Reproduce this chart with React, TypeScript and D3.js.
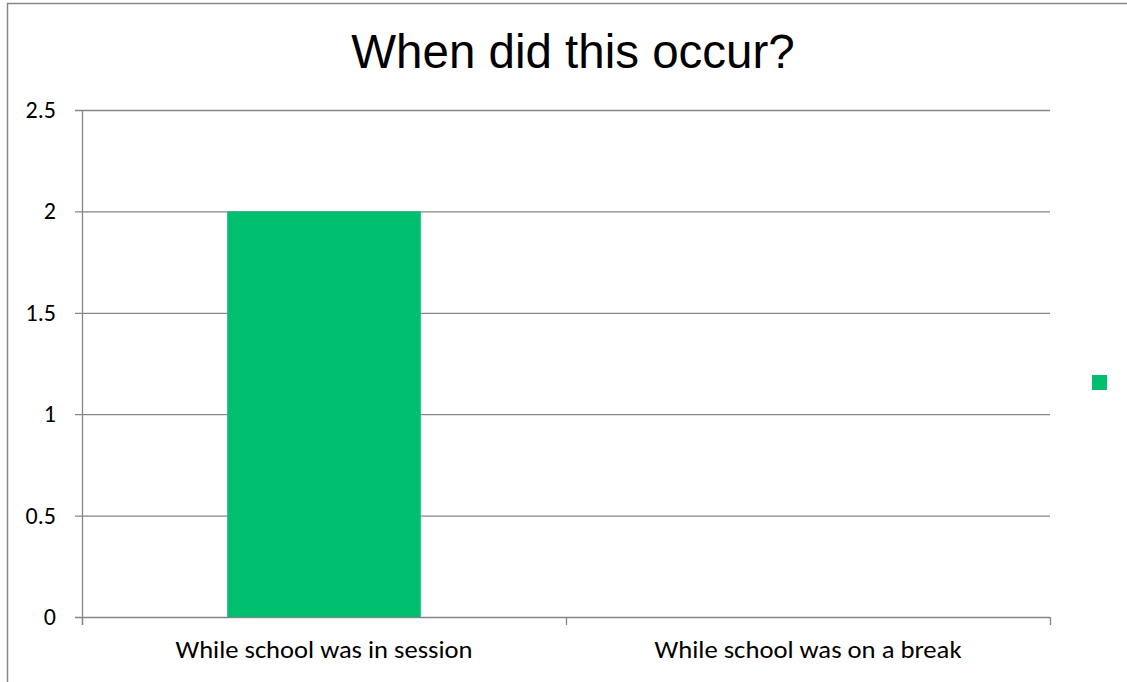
import React from "react";
import * as d3 from "d3";

const categories = ["While school was in session", "While school was on a break"];
const values = [2, 0];
const yTicks = [0, 0.5, 1, 1.5, 2, 2.5];
const title = "When did this occur?";
const barColor = "#00BF6F";

export default function App() {
  const W = 1127, H = 682;
  const x0 = 82, x1 = 1050, yTop = 110, yBot = 617;
  const x = d3.scaleBand<string>().domain(categories).range([x0, x1]).paddingInner(0.6).paddingOuter(0.3);
  const xb = d3.scaleBand<string>().domain(categories).range([x0, x1]);
  const y = d3.scaleLinear().domain([0, 2.5]).range([yBot, yTop]);
  const grid = "#868686";
  const font = "Carlito, Calibri, Lato, 'Open Sans', sans-serif";
  const labelLen = [297, 307];
  return (
    <svg width={W} height={H} style={{ position: "absolute", left: 0, top: 0, background: "#fff" }}>
      <rect x={7.5} y={3.5} width={W + 10} height={H + 10} fill="#fff" stroke="#888" strokeWidth={1.5} />
      <text x={573} y={68} textAnchor="middle" fontFamily="'Liberation Sans', Arial, sans-serif" fontSize={47.5} fill="#000">
        {title}
      </text>
      {yTicks.map((t) => (
        <g key={t}>
          <line x1={x0 - 7} x2={x1} y1={y(t) + 0.5} y2={y(t) + 0.5} stroke={grid} strokeWidth={1.3} />
          <text x={56} y={y(t) + 8} textAnchor="end" fontFamily={font} fontSize={24} fill="#000">
            {t}
          </text>
        </g>
      ))}
      <line x1={x0 + 0.5} x2={x0 + 0.5} y1={yTop} y2={yBot + 8} stroke={grid} strokeWidth={1.3} />
      {categories.map((c, i) => (
        <rect key={c} x={x(c)!} width={x.bandwidth()} y={y(values[i])} height={yBot - y(values[i])} fill={barColor} />
      ))}
      {[...categories.map((c) => xb(c)!), x1].map((px, i) => (
        <line key={i} x1={px + 0.5} x2={px + 0.5} y1={yBot} y2={yBot + 8} stroke={grid} strokeWidth={1.3} />
      ))}
      {categories.map((c, i) => (
        <text
          key={c}
          x={xb(c)! + xb.bandwidth() / 2 - labelLen[i] / 2}
          y={658}
          textLength={labelLen[i]}
          lengthAdjust="spacingAndGlyphs"
          fontFamily={font}
          fontSize={24}
          fill="#000"
        >
          {c}
        </text>
      ))}
      <rect x={1092} y={375} width={15} height={15} fill={barColor} />
    </svg>
  );
}
